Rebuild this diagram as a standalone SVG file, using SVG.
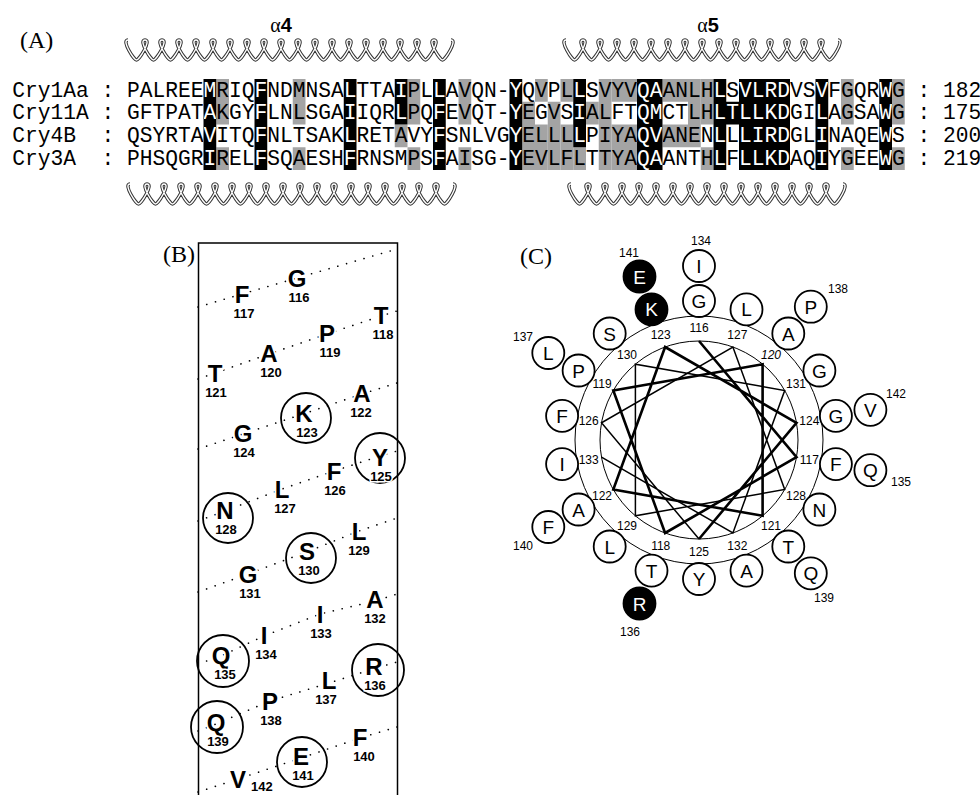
<svg xmlns="http://www.w3.org/2000/svg" width="980" height="795" viewBox="0 0 980 795">
<style>
.lbl{font-family:"Liberation Serif","Times New Roman",serif;font-size:24px}
.seq{font-family:"Liberation Mono","Courier New",monospace;font-size:21.25px}
.wt{fill:#fff}
.gr{fill:#a4a4a4}
.coilo{fill:none;stroke:#333;stroke-width:3.4}
.coili{fill:none;stroke:#fff;stroke-width:1.4}
.hl{font-family:"Liberation Sans",Arial,sans-serif;font-weight:bold;font-size:20px;text-anchor:middle}
.bl{font-family:"Liberation Sans",Arial,sans-serif;font-weight:bold;font-size:24px;text-anchor:middle;stroke:#fff;stroke-width:4;paint-order:stroke}
.bn{font-family:"Liberation Sans",Arial,sans-serif;font-weight:bold;font-size:13px;text-anchor:middle;stroke:#fff;stroke-width:3;paint-order:stroke}
.bc{fill:none;stroke:#000;stroke-width:1.8}
.dot{fill:none;stroke:#000;stroke-width:1.6;stroke-dasharray:0.1 9;stroke-linecap:round}
.ring{fill:none;stroke:#000;stroke-width:1}
.sp1{fill:none;stroke:#000;stroke-width:2.6}
.sp2{fill:none;stroke:#000;stroke-width:1.5}
.cn{font-family:"Liberation Sans",Arial,sans-serif;font-size:12px;text-anchor:middle}
.rc{fill:#fff;stroke:#000;stroke-width:1.8}
.rf{fill:#000;stroke:#000;stroke-width:1.8}
.rl{font-family:"Liberation Sans",Arial,sans-serif;font-size:19px;text-anchor:middle}
</style>
<defs>
<path id="coil19" d="M0,0 c-7,0 6,20 8.5,20 c2.5,0 15.5,-20 8.5,-20 c-7,0 6,20 8.5,20 c2.5,0 15.5,-20 8.5,-20 c-7,0 6,20 8.5,20 c2.5,0 15.5,-20 8.5,-20 c-7,0 6,20 8.5,20 c2.5,0 15.5,-20 8.5,-20 c-7,0 6,20 8.5,20 c2.5,0 15.5,-20 8.5,-20 c-7,0 6,20 8.5,20 c2.5,0 15.5,-20 8.5,-20 c-7,0 6,20 8.5,20 c2.5,0 15.5,-20 8.5,-20 c-7,0 6,20 8.5,20 c2.5,0 15.5,-20 8.5,-20 c-7,0 6,20 8.5,20 c2.5,0 15.5,-20 8.5,-20 c-7,0 6,20 8.5,20 c2.5,0 15.5,-20 8.5,-20 c-7,0 6,20 8.5,20 c2.5,0 15.5,-20 8.5,-20 c-7,0 6,20 8.5,20 c2.5,0 15.5,-20 8.5,-20 c-7,0 6,20 8.5,20 c2.5,0 15.5,-20 8.5,-20 c-7,0 6,20 8.5,20 c2.5,0 15.5,-20 8.5,-20 c-7,0 6,20 8.5,20 c2.5,0 15.5,-20 8.5,-20 c-7,0 6,20 8.5,20 c2.5,0 15.5,-20 8.5,-20 c-7,0 6,20 8.5,20 c2.5,0 15.5,-20 8.5,-20 c-7,0 6,20 8.5,20 c2.5,0 15.5,-20 8.5,-20 c-7,0 6,20 8.5,20 c2.5,0 15.5,-20 8.5,-20"/>
<path id="coil16" d="M0,0 c-7,0 6,20 8.5,20 c2.5,0 15.5,-20 8.5,-20 c-7,0 6,20 8.5,20 c2.5,0 15.5,-20 8.5,-20 c-7,0 6,20 8.5,20 c2.5,0 15.5,-20 8.5,-20 c-7,0 6,20 8.5,20 c2.5,0 15.5,-20 8.5,-20 c-7,0 6,20 8.5,20 c2.5,0 15.5,-20 8.5,-20 c-7,0 6,20 8.5,20 c2.5,0 15.5,-20 8.5,-20 c-7,0 6,20 8.5,20 c2.5,0 15.5,-20 8.5,-20 c-7,0 6,20 8.5,20 c2.5,0 15.5,-20 8.5,-20 c-7,0 6,20 8.5,20 c2.5,0 15.5,-20 8.5,-20 c-7,0 6,20 8.5,20 c2.5,0 15.5,-20 8.5,-20 c-7,0 6,20 8.5,20 c2.5,0 15.5,-20 8.5,-20 c-7,0 6,20 8.5,20 c2.5,0 15.5,-20 8.5,-20 c-7,0 6,20 8.5,20 c2.5,0 15.5,-20 8.5,-20 c-7,0 6,20 8.5,20 c2.5,0 15.5,-20 8.5,-20 c-7,0 6,20 8.5,20 c2.5,0 15.5,-20 8.5,-20 c-7,0 6,20 8.5,20 c2.5,0 15.5,-20 8.5,-20"/>
<clipPath id="blk">
<rect x="203.5" y="79" width="12.75" height="91"/>
<rect x="254.5" y="79" width="12.75" height="91"/>
<rect x="343.75" y="79" width="12.75" height="91"/>
<rect x="394.75" y="79" width="12.75" height="45.5"/>
<rect x="433" y="79" width="12.75" height="91"/>
<rect x="509.5" y="79" width="12.75" height="91"/>
<rect x="573.25" y="79" width="12.75" height="68.25"/>
<rect x="637" y="79" width="25.5" height="91"/>
<rect x="713.5" y="79" width="12.75" height="91"/>
<rect x="726.25" y="101.75" width="12.75" height="22.75"/>
<rect x="739" y="79" width="51" height="91"/>
<rect x="815.5" y="79" width="12.75" height="91"/>
<rect x="879.25" y="79" width="12.75" height="91"/>
</clipPath>
</defs>

<g id="panelA">
<text class="lbl" x="20" y="48">(A)</text>
<text class="hl" x="281" y="32"><tspan font-family="Liberation Serif" font-weight="normal">α</tspan>4</text>
<text class="hl" x="708" y="32"><tspan font-family="Liberation Serif" font-weight="normal">α</tspan>5</text>
<g id="helices">
<use href="#coil19" x="128" y="40" class="coilo"/><use href="#coil19" x="128" y="40" class="coili"/>
<use href="#coil16" x="566" y="40" class="coilo"/><use href="#coil16" x="566" y="40" class="coili"/>
<use href="#coil19" x="130" y="184" class="coilo"/><use href="#coil19" x="130" y="184" class="coili"/>
<use href="#coil16" x="571" y="184" class="coilo"/><use href="#coil16" x="571" y="184" class="coili"/>
</g>
<g id="shadeGrey" class="gr">
<rect x="216.25" y="79" width="12.75" height="45.5"/><rect x="216.25" y="147.25" width="12.75" height="22.75"/>
<rect x="292.75" y="79" width="12.75" height="45.5"/><rect x="292.75" y="147.25" width="12.75" height="22.75"/>
<rect x="394.75" y="124.5" width="12.75" height="22.75"/>
<rect x="407.5" y="79" width="12.75" height="45.5"/><rect x="407.5" y="147.25" width="12.75" height="22.75"/>
<rect x="458.5" y="79" width="12.75" height="45.5"/><rect x="458.5" y="147.25" width="12.75" height="22.75"/>
<rect x="522.25" y="101.75" width="12.75" height="68.25"/>
<rect x="535" y="79" width="12.75" height="22.75"/><rect x="535" y="124.5" width="12.75" height="45.5"/>
<rect x="547.75" y="101.75" width="12.75" height="68.25"/>
<rect x="560.5" y="79" width="12.75" height="22.75"/><rect x="560.5" y="124.5" width="12.75" height="45.5"/>
<rect x="573.25" y="147.25" width="12.75" height="22.75"/>
<rect x="586" y="101.75" width="12.75" height="22.75"/>
<rect x="598.75" y="79" width="12.75" height="91"/>
<rect x="611.5" y="79" width="25.5" height="22.75"/><rect x="611.5" y="124.5" width="25.5" height="45.5"/>
<rect x="662.5" y="79" width="25.5" height="22.75"/><rect x="662.5" y="124.5" width="25.5" height="22.75"/>
<rect x="688" y="79" width="12.75" height="68.25"/>
<rect x="700.75" y="79" width="12.75" height="45.5"/><rect x="700.75" y="147.25" width="12.75" height="22.75"/>
<rect x="841" y="79" width="12.75" height="45.5"/><rect x="841" y="147.25" width="12.75" height="22.75"/>
<rect x="892" y="79" width="12.75" height="45.5"/><rect x="892" y="147.25" width="12.75" height="22.75"/>
</g>
<rect id="shadeBlack" x="0" y="70" width="980" height="110" fill="#000" clip-path="url(#blk)"/>
<g id="rows" class="seq">
<text x="12.25" y="96.5">Cry1Aa</text><text x="101.5" y="96.5">:</text><text x="127" y="96.5">PALREEMRIQFNDMNSALTTAIPLLAVQN-YQVPLLSVYVQAANLHLSVLRDVSVFGQRWG</text><text x="917.5" y="96.5">:</text><text x="943" y="96.5">182</text>
<text x="12.25" y="119.25">Cry11A</text><text x="101.5" y="119.25">:</text><text x="127" y="119.25">GFTPATAKGYFLNLSGAIIQRLPQFEVQT-YEGVSIALFTQMCTLHLTLLKDGILAGSAWG</text><text x="917.5" y="119.25">:</text><text x="943" y="119.25">175</text>
<text x="12.25" y="142">Cry4B</text><text x="101.5" y="142">:</text><text x="127" y="142">QSYRTAVITQFNLTSAKLRETAVYFSNLVGYELLLLPIYAQVANENLLLIRDGLINAQEWS</text><text x="917.5" y="142">:</text><text x="943" y="142">200</text>
<text x="12.25" y="164.75">Cry3A</text><text x="101.5" y="164.75">:</text><text x="127" y="164.75">PHSQGRIRELFSQAESHFRNSMPSFAISG-YEVLFLTTYAQAANTHLFLLKDAQIYGEEWG</text><text x="917.5" y="164.75">:</text><text x="943" y="164.75">219</text>
</g>
<g id="rowsOnBlack" class="seq wt" clip-path="url(#blk)">
<text x="127" y="96.5">PALREEMRIQFNDMNSALTTAIPLLAVQN-YQVPLLSVYVQAANLHLSVLRDVSVFGQRWG</text>
<text x="127" y="119.25">GFTPATAKGYFLNLSGAIIQRLPQFEVQT-YEGVSIALFTQMCTLHLTLLKDGILAGSAWG</text>
<text x="127" y="142">QSYRTAVITQFNLTSAKLRETAVYFSNLVGYELLLLPIYAQVANENLLLIRDGLINAQEWS</text>
<text x="127" y="164.75">PHSQGRIRELFSQAESHFRNSMPSFAISG-YEVLFLTTYAQAANTHLFLLKDAQIYGEEWG</text>
</g>
</g>

<g id="panelB">
<text class="lbl" x="163" y="262">(B)</text>
<rect x="198.5" y="243" width="199" height="560" fill="none" stroke="#000" stroke-width="1.5"/>
<g id="netLines">
<polyline class="dot" points="198,307 242,294 297,278 397,249"/>
<polyline class="dot" points="198,379 215,373 269,354 327,334 381,316 397,311"/>
<polyline class="dot" points="198,449 243,434 306,413 362,394 397,383"/>
<polyline class="dot" points="198,521 225,511 282,489 334,471 380,456 397,451"/>
<polyline class="dot" points="198,592 248,574 309,551 359,531 397,518"/>
<polyline class="dot" points="198,664 221,656 264,636 320,614 375,601 397,594"/>
<polyline class="dot" points="198,731 216,724 270,701 329,683 376,668 397,662"/>
<polyline class="dot" points="198,792 238,779 301,758 360,738 397,727"/>
</g>
<g id="b116"><text class="bl" x="297" y="287">G</text><text class="bn" x="299" y="302">116</text></g>
<g id="b117"><text class="bl" x="242" y="303">F</text><text class="bn" x="244" y="318">117</text></g>
<g id="b118"><text class="bl" x="381" y="324">T</text><text class="bn" x="383" y="339">118</text></g>
<g id="b119"><text class="bl" x="327" y="342">P</text><text class="bn" x="330" y="357">119</text></g>
<g id="b120"><text class="bl" x="269" y="362">A</text><text class="bn" x="271" y="377">120</text></g>
<g id="b121"><text class="bl" x="215" y="382">T</text><text class="bn" x="216" y="397">121</text></g>
<g id="b122"><text class="bl" x="362" y="402">A</text><text class="bn" x="361" y="417">122</text></g>
<g id="b123"><circle class="bc" cx="306" cy="418" r="25"/><text class="bl" x="304" y="422">K</text><text class="bn" x="307" y="437">123</text></g>
<g id="b124"><text class="bl" x="243" y="442">G</text><text class="bn" x="244" y="457">124</text></g>
<g id="b125"><circle class="bc" cx="380" cy="458" r="25"/><text class="bl" x="380" y="466">Y</text><text class="bn" x="381" y="481">125</text></g>
<g id="b126"><text class="bl" x="334" y="480">F</text><text class="bn" x="335" y="495">126</text></g>
<g id="b127"><text class="bl" x="282" y="498">L</text><text class="bn" x="285" y="513">127</text></g>
<g id="b128"><circle class="bc" cx="228" cy="518" r="25"/><text class="bl" x="225" y="519">N</text><text class="bn" x="226" y="534">128</text></g>
<g id="b129"><text class="bl" x="359" y="540">L</text><text class="bn" x="359" y="555">129</text></g>
<g id="b130"><circle class="bc" cx="311" cy="558" r="25"/><text class="bl" x="307" y="560">S</text><text class="bn" x="309" y="575">130</text></g>
<g id="b131"><text class="bl" x="248" y="583">G</text><text class="bn" x="250" y="598">131</text></g>
<g id="b132"><text class="bl" x="375" y="608">A</text><text class="bn" x="375" y="623">132</text></g>
<g id="b133"><text class="bl" x="320" y="623">I</text><text class="bn" x="321" y="638">133</text></g>
<g id="b134"><text class="bl" x="264" y="644">I</text><text class="bn" x="266" y="659">134</text></g>
<g id="b135"><circle class="bc" cx="223" cy="661" r="26"/><text class="bl" x="221" y="664">Q</text><text class="bn" x="225" y="679">135</text></g>
<g id="b136"><circle class="bc" cx="378" cy="670" r="26"/><text class="bl" x="374" y="675">R</text><text class="bn" x="375" y="690">136</text></g>
<g id="b137"><text class="bl" x="329" y="689">L</text><text class="bn" x="326" y="704">137</text></g>
<g id="b138"><text class="bl" x="270" y="710">P</text><text class="bn" x="271" y="725">138</text></g>
<g id="b139"><circle class="bc" cx="217" cy="727" r="26"/><text class="bl" x="216" y="731">Q</text><text class="bn" x="218" y="746">139</text></g>
<g id="b140"><text class="bl" x="360" y="746">F</text><text class="bn" x="364" y="761">140</text></g>
<g id="b141"><circle class="bc" cx="302" cy="762" r="25"/><text class="bl" x="301" y="765">E</text><text class="bn" x="303" y="780">141</text></g>
<g id="b142"><text class="bl" x="238" y="788">V</text><text class="bn" x="251" y="791" style="text-anchor:start">142</text></g>
</g>

<g id="panelC">
<text class="lbl" x="520" y="264">(C)</text>
<circle class="ring" cx="699" cy="440" r="124"/>
<circle class="ring" cx="699" cy="440" r="99"/>
<g id="connectors">
<polyline class="sp1" points="699,341 796.5,457.2 665.1,533 613.3,390.5 762.6,364.2 762.6,515.8 613.3,489.5 665.1,347 796.5,422.8 699,539"/>
<polyline class="sp2" points="699,539 601.5,422.8 732.9,347 784.7,489.5 635.4,515.8 635.4,364.2 784.7,390.5 732.9,533 601.5,457.2"/>
</g>
<g id="ringNums" class="cn">
<text x="699" y="332.3">116</text><text x="737.3" y="339.1">127</text><text x="771" y="358.5" font-style="italic">120</text>
<text x="796" y="388.3">131</text><text x="809.3" y="424.9">124</text><text x="809.3" y="463.7">117</text>
<text x="796" y="500.3">128</text><text x="771" y="530.1">121</text><text x="737.3" y="549.5">132</text>
<text x="699" y="556.3">125</text><text x="660.7" y="549.5">118</text><text x="627" y="530.1">129</text>
<text x="602" y="500.3">122</text><text x="588.7" y="463.7">133</text><text x="588.7" y="424.9">126</text>
<text x="602" y="388.3">119</text><text x="627" y="358.5">130</text><text x="660.7" y="339.1">123</text>
</g>
<g id="c116"><circle class="rc" cx="699" cy="301" r="16"/><text class="rl" x="699" y="308">G</text></g>
<g id="c127"><circle class="rc" cx="746.5" cy="309.4" r="16"/><text class="rl" x="746.5" y="316.4">L</text></g>
<g id="c120"><circle class="rc" cx="788.3" cy="333.5" r="16"/><text class="rl" x="788.3" y="340.5">A</text></g>
<g id="c131"><circle class="rc" cx="819.4" cy="370.5" r="16"/><text class="rl" x="819.4" y="377.5">G</text></g>
<g id="c124"><circle class="rc" cx="835.9" cy="415.9" r="16"/><text class="rl" x="835.9" y="422.9">G</text></g>
<g id="c117"><circle class="rc" cx="835.9" cy="464.1" r="16"/><text class="rl" x="835.9" y="471.1">F</text></g>
<g id="c128"><circle class="rc" cx="819.4" cy="509.5" r="16"/><text class="rl" x="819.4" y="516.5">N</text></g>
<g id="c121"><circle class="rc" cx="788.3" cy="546.5" r="16"/><text class="rl" x="788.3" y="553.5">T</text></g>
<g id="c132"><circle class="rc" cx="746.5" cy="570.6" r="16"/><text class="rl" x="746.5" y="577.6">A</text></g>
<g id="c125"><circle class="rc" cx="699" cy="579" r="16"/><text class="rl" x="699" y="586">Y</text></g>
<g id="c118"><circle class="rc" cx="651.5" cy="570.6" r="16"/><text class="rl" x="651.5" y="577.6">T</text></g>
<g id="c129"><circle class="rc" cx="609.7" cy="546.5" r="16"/><text class="rl" x="609.7" y="553.5">L</text></g>
<g id="c122"><circle class="rc" cx="578.6" cy="509.5" r="16"/><text class="rl" x="578.6" y="516.5">A</text></g>
<g id="c133"><circle class="rc" cx="562.1" cy="464.1" r="16"/><text class="rl" x="562.1" y="471.1">I</text></g>
<g id="c126"><circle class="rc" cx="562.1" cy="415.9" r="16"/><text class="rl" x="562.1" y="422.9">F</text></g>
<g id="c119"><circle class="rc" cx="578.6" cy="370.5" r="16"/><text class="rl" x="578.6" y="377.5">P</text></g>
<g id="c130"><circle class="rc" cx="609.7" cy="333.5" r="16"/><text class="rl" x="609.7" y="340.5">S</text></g>
<g id="c123"><circle class="rf" cx="651.5" cy="309.4" r="16"/><text class="rl wt" x="651.5" y="316.4">K</text></g>
<g id="c134"><circle class="rc" cx="699" cy="266" r="16"/><text class="rl" x="699" y="273">I</text><text class="cn" x="701" y="245">134</text></g>
<g id="c135"><circle class="rc" cx="870.4" cy="470.2" r="16"/><text class="rl" x="870.4" y="477.2">Q</text><text class="cn" x="901" y="486">135</text></g>
<g id="c136"><circle class="rf" cx="639.5" cy="603.5" r="16"/><text class="rl wt" x="639.5" y="610.5">R</text><text class="cn" x="630" y="636">136</text></g>
<g id="c137"><circle class="rc" cx="548.3" cy="353" r="16"/><text class="rl" x="548.3" y="360">L</text><text class="cn" x="523" y="341">137</text></g>
<g id="c138"><circle class="rc" cx="810.8" cy="306.7" r="16"/><text class="rl" x="810.8" y="313.7">P</text><text class="cn" x="838" y="293">138</text></g>
<g id="c139"><circle class="rc" cx="810.8" cy="573.3" r="16"/><text class="rl" x="810.8" y="580.3">Q</text><text class="cn" x="824" y="602">139</text></g>
<g id="c140"><circle class="rc" cx="548.3" cy="527" r="16"/><text class="rl" x="548.3" y="534">F</text><text class="cn" x="523" y="550">140</text></g>
<g id="c141"><circle class="rf" cx="639.5" cy="276.5" r="16"/><text class="rl wt" x="639.5" y="283.5">E</text><text class="cn" x="629" y="257">141</text></g>
<g id="c142"><circle class="rc" cx="870.4" cy="409.8" r="16"/><text class="rl" x="870.4" y="416.8">V</text><text class="cn" x="896" y="398">142</text></g>
</g>
</svg>
